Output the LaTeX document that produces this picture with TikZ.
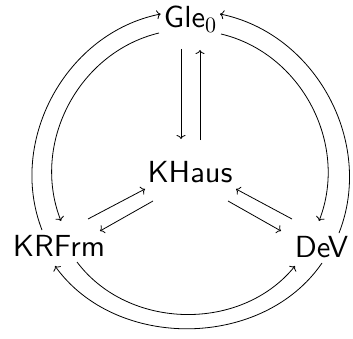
\documentclass[tikz,border=0pt]{standalone}
\usepackage{fontspec}
\usepackage{tikz}
\usetikzlibrary{arrows.meta}
\newfontfamily\objfont{lmsans10-regular}[Extension=.otf]
\newfontfamily\idxfont{lmroman10-regular}[Extension=.otf]
\newcommand{\subidx}[1]{\raisebox{-5pt}{\idxfont\fontsize{22}{22}\selectfont #1}}

\begin{document}
\begin{tikzpicture}[x=1pt,y=1pt,
    obj/.style={font=\objfont\fontsize{30.5}{36}\selectfont, inner sep=0pt, anchor=base},
    every path/.style={line width=0.8pt},
    >={To[length=4pt,width=9pt]}]
    \useasboundingbox (0,0) rectangle (353,338);

    \node[obj] (gle) at (190,310) {Gle\subidx{0}};
    \node[obj] (khaus) at (190,156) {KHaus};
    \node[obj] (krfrm) at (59,82) {KRFrm};
    \node[obj] (dev) at (321.5,81) {DeV};

    % Gle <-> KHaus
    \draw[->] ([shift={(-9,-21)}]gle.base) -- ([shift={(-9,43)}]khaus.base);
    \draw[->] ([shift={(10,42)}]khaus.base) -- ([shift={(10,-22)}]gle.base);

    % KRFrm <-> KHaus <-> DeV
    \draw[->] ([shift={(29,37)}]krfrm.base) -- ([shift={(-45,-7)}]khaus.base);
    \draw[->] ([shift={(-37,-19)}]khaus.base) -- ([shift={(41,25)}]krfrm.base);
    \draw[->] ([shift={(-29.5,38)}]dev.base) -- ([shift={(46,-7)}]khaus.base);
    \draw[->] ([shift={(38,-19)}]khaus.base) -- ([shift={(-40.5,26)}]dev.base);

    % outer and inner arcs
    \draw[->] ([shift={(-17,26)}]krfrm.base) to[bend left=50] ([shift={(-29.3,14)}]gle.base);
    \draw[->] ([shift={(-31,-5)}]gle.base) to[bend right=49] ([shift={(2,35)}]krfrm.base);
    \draw[->] ([shift={(17.5,24)}]dev.base) to[bend right=50] ([shift={(30,14)}]gle.base);
    \draw[->] ([shift={(31,-6)}]gle.base) to[bend left=49] ([shift={(-2.5,36)}]dev.base);
    \draw[->] ([shift={(18,-6)}]krfrm.base) to[bend right=52] ([shift={(-26.5,-9)}]dev.base);
    \draw[->] ([shift={(0.5,-6)}]dev.base) to[bend left=55] ([shift={(-4,-10)}]krfrm.base);
\end{tikzpicture}
\end{document}
